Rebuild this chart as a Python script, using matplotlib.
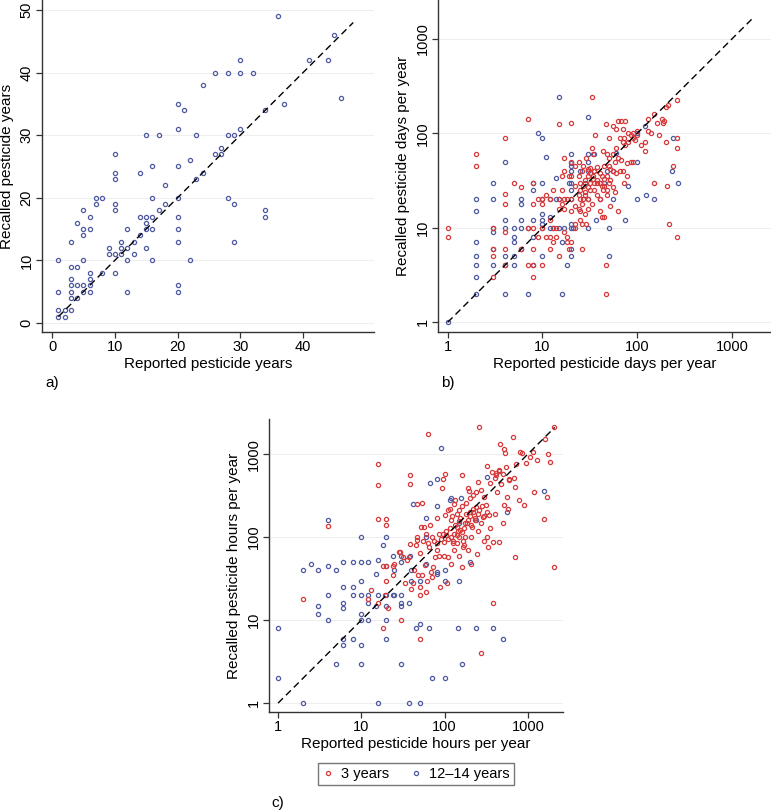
import matplotlib
matplotlib.use("Agg")
import matplotlib.pyplot as plt
from matplotlib.lines import Line2D
from matplotlib.ticker import FixedLocator, FixedFormatter, NullLocator

plt.rcParams["font.family"] = ["Liberation Sans", "DejaVu Sans"]

RED = "#d8393a"
BLUE = "#4f5aa0"

# ---- panel a: pesticide years (12-14 year group only) ----
a_reported = [1, 2, 1, 2, 3, 3, 4, 1, 3, 5, 6, 12, 20, 3, 4, 5, 6, 20, 3, 6,
              6, 8, 10, 3, 4, 1, 5, 12, 16, 22, 9, 10, 11, 13, 9, 11, 12, 15,
              3, 11, 13, 29, 20, 5, 14, 5, 6, 12, 15, 16, 20, 4, 15, 6, 14, 15,
              16, 20, 34, 5, 10, 17, 34, 7, 10, 18, 29, 7, 8, 16, 20, 28, 18,
              10, 23, 10, 14, 24, 16, 20, 22, 10, 26, 27, 27, 15, 17, 23, 28,
              29, 20, 30, 21, 34, 20, 37, 46, 24, 26, 28, 30, 32, 30, 41, 44,
              45, 36]
a_recalled = [1, 1, 2, 2, 2, 4, 4, 5, 5, 5, 5, 5, 5, 6, 6, 6, 6, 6, 7, 7,
              8, 8, 8, 9, 9, 10, 10, 10, 10, 10, 11, 11, 11, 11, 12, 12, 12, 12,
              13, 13, 13, 13, 13, 14, 14, 15, 15, 15, 15, 15, 15, 16, 16, 17, 17,
              17, 17, 17, 17, 18, 18, 18, 18, 19, 19, 19, 19, 20, 20, 20, 20, 20,
              22, 23, 23, 24, 24, 24, 25, 25, 26, 27, 27, 27, 28, 30, 30, 30, 30,
              30, 31, 31, 34, 34, 35, 35, 36, 38, 40, 40, 40, 40, 42, 42, 42,
              46, 49]

# ---- panel b: days per year ----
b_blue_reported = [1, 2, 2, 2, 2, 2, 2, 2, 3, 3, 3, 3, 3, 3, 4, 4, 4, 4, 4, 4,
                   5, 5, 5, 5, 5, 6, 6, 6, 6, 6, 7, 7, 8, 8, 8, 8, 8, 9,
                   10, 10, 10, 10, 10, 10, 10, 10, 11, 12, 12, 12, 13, 14, 14,
                   15, 15, 15, 16, 16, 17, 18, 19, 20, 20, 20, 20, 20, 20, 20,
                   20, 20, 20, 20, 21, 25, 28, 30, 30, 30, 30, 30, 30, 35, 35,
                   37, 40, 40, 45, 48, 50, 50, 55, 55, 60, 75, 80, 100, 100,
                   100, 120, 125, 150, 230, 240, 270]
b_blue_recalled = [1, 2, 3, 4, 5, 7, 15, 20, 4, 6, 10, 9, 20, 30, 2, 4, 5, 10, 12, 50,
                   4, 5, 7, 8, 10, 6, 10, 12, 18, 20, 2, 10, 4, 8, 12, 25, 30, 100,
                   5, 10, 11, 12, 14, 20, 30, 90, 56, 10, 13, 20, 10, 34, 20,
                   20, 10, 240, 2, 7, 10, 4, 30, 5, 6, 10, 11, 20, 25, 30,
                   40, 45, 60, 48, 10, 40, 30, 20, 40, 50, 60, 150, 10, 40, 60,
                   12, 30, 20, 30, 40, 5, 10, 20, 40, 62, 12, 28, 50, 100,
                   20, 120, 22, 20, 40, 90, 30]

b_red_reported = [1, 1, 2, 2, 3, 3, 3, 3, 4, 4, 4, 4, 4, 4, 5, 6, 6, 7, 7, 7,
                  8, 8, 8, 8, 8, 8, 9, 9, 10, 10, 10, 10, 11, 11, 12, 12, 12, 12,
                  13, 13, 13, 14, 14, 15, 15, 15, 15, 16, 16, 16, 17, 17, 17, 17,
                  17, 18, 18, 18, 19, 19, 20, 20, 20, 20, 20, 20, 22, 22, 22, 22,
                  22, 24, 24, 24, 24, 25, 25, 25, 25, 25, 26, 26, 26, 26, 27, 27,
                  27, 28, 28, 28, 28, 29, 29, 30, 30, 30, 30, 30, 32, 32, 32, 32,
                  33, 33, 33, 34, 34, 34, 35, 35, 35, 36, 38, 38, 38, 38, 40, 40,
                  40, 40, 42, 42, 42, 43, 43, 45, 45, 45, 45, 47, 47, 47, 48, 48,
                  48, 48, 50, 50, 50, 50, 52, 52, 52, 55, 55, 55, 55, 58, 58, 60,
                  60, 60, 62, 62, 62, 65, 65, 68, 68, 70, 70, 70, 72, 72, 75, 75,
                  78, 78, 80, 80, 85, 85, 90, 90, 90, 95, 100, 100, 110, 120, 120,
                  130, 130, 140, 150, 150, 160, 170, 180, 185, 190, 200, 200, 205,
                  210, 215, 240, 260, 260, 260, 260]
b_red_recalled = [10, 8, 60, 45, 3, 5, 6, 10, 90, 23, 18, 9, 6, 4, 30, 27, 6, 140, 10, 4,
                  30, 18, 10, 6, 4, 3, 20, 8, 20, 18, 4, 10, 22, 8, 20, 12, 8, 6,
                  25, 10, 7, 10, 8, 125, 20, 16, 5, 35, 25, 18, 55, 40, 20, 16,
                  9, 20, 7, 8, 6, 35, 130, 50, 35, 20, 15, 7, 45, 28, 17, 11,
                  10, 35, 22, 16, 50, 30, 25, 20, 15, 12, 6, 11, 18, 40, 45, 28,
                  20, 32, 24, 14, 22, 11, 55, 42, 35, 27, 20, 16, 43, 30, 25, 38,
                  240, 70, 18, 60, 33, 35, 40, 30, 25, 95, 44, 30, 22, 32, 38, 30,
                  20, 15, 35, 28, 13, 25, 65, 33, 45, 13, 28, 125, 4, 2, 60, 35,
                  25, 22, 90, 55, 45, 30, 42, 32, 17, 120, 60, 40, 27, 50, 24, 110,
                  70, 38, 135, 55, 15, 90, 40, 52, 135, 80, 110, 40, 90, 30, 135, 75,
                  48, 35, 100, 80, 95, 50, 90, 100, 50, 85, 105, 95, 75, 80, 65,
                  140, 105, 100, 160, 30, 130, 95, 140, 130, 135, 80, 190, 28,
                  200, 11, 45, 225, 90, 70, 8]

# ---- panel c: hours per year ----
c_blue_reported = [1, 1, 2, 2, 2.5, 3, 3, 3, 4, 4, 4, 4, 5, 5, 6, 6, 6, 6, 6, 6,
                   8, 8, 8, 8, 10, 10, 10, 10, 10, 10, 10, 10, 12, 12, 12, 12,
                   15, 15, 16, 16, 16, 18, 20, 20, 20, 20, 20, 20, 24, 24, 25, 25,
                   30, 30, 30, 30, 30, 30, 37, 37, 38, 40, 40, 42, 45, 50, 50, 50,
                   60, 60, 60, 65, 66, 70, 80, 80, 80, 82, 90, 100, 100, 100, 115,
                   120, 145, 150, 150, 160, 158, 200, 240, 240, 320, 380, 500, 560,
                   1580]
c_blue_recalled = [8, 2, 1, 40, 48, 40, 15, 12, 160, 45, 20, 10, 40, 3, 50, 25, 16, 14, 6, 5,
                   50, 25, 20, 6, 100, 50, 30, 20, 12, 10, 5, 3, 50, 20, 16, 10,
                   36, 15, 53, 20, 1, 80, 100, 45, 20, 15, 10, 6, 60, 20, 20, 40,
                   60, 50, 20, 16, 15, 3, 1, 16, 60, 40, 30, 250, 8, 1, 9, 30,
                   170, 100, 48, 8, 450, 2, 500, 240, 38, 36, 1200, 2, 40, 30, 280,
                   300, 8, 30, 150, 3, 300, 50, 8, 160, 530, 8, 6, 200,
                   360]

c_red_reported = [2, 4, 13, 12, 16, 16, 16, 16, 18, 18, 19, 20, 20, 20, 20, 21, 24, 24,
                  25, 28, 29, 30, 32, 33, 35, 37, 38, 38, 38, 40, 42, 43, 46, 46, 47,
                  48, 50, 50, 50, 52, 53, 54, 56, 58, 60, 61, 64, 64, 66, 68, 70, 72,
                  76, 80, 80, 86, 88, 93, 96, 98, 98, 100, 100, 103, 108, 110, 115,
                  118, 124, 127, 133, 140, 142, 147, 150, 155, 160, 160, 168, 175,
                  185, 190, 195, 200, 205, 212, 222, 230, 245, 255, 262, 270, 274,
                  290, 300, 310, 320, 325, 330, 345, 370, 380, 385, 400, 420, 425,
                  450, 455, 465, 480, 500, 510, 520, 535, 560, 580, 595, 670, 680,
                  700, 710, 720, 780, 815, 850, 900, 955, 1050, 1150, 1190, 1290,
                  1580, 1620, 1680, 1740, 1820, 2050, 2050,
                  90, 95, 105, 110, 115, 120, 125, 130, 135, 140, 145, 150, 155, 160,
                  165, 170, 175, 180, 190, 200, 210, 220, 230, 240, 250, 260, 270,
                  280, 300, 320, 80, 85, 75, 70, 65, 60, 55, 50, 45, 120, 140, 160,
                  180, 200, 220, 240, 110, 130, 350, 400, 420, 450, 500, 550, 600,
                  130, 150, 170, 210, 250, 300, 350, 190]
c_red_recalled = [18, 135, 23, 18, 770, 430, 165, 16, 8, 45, 20, 165, 140, 45, 30, 14, 45, 35,
                  48, 67, 67, 10, 58, 28, 53, 57, 560, 440, 82, 24, 28, 40, 101, 92, 250,
                  35, 6, 20, 25, 133, 255, 35, 133, 46, 22, 30, 1750, 85, 140, 38, 33, 44,
                  58, 85, 170, 110, 25, 390, 500, 87, 60, 185, 580, 120, 28, 58, 220,
                  48, 180, 84, 280, 85, 133, 155, 215, 122, 555, 44, 77, 100,
                  148, 390, 360, 203, 48, 133, 220, 163, 62, 460, 2100, 370, 4,
                  175, 305, 245, 720, 100, 75, 185, 610, 16, 88, 190, 560, 350,
                  640, 88, 1320, 440, 147, 1160, 245, 1020, 305, 220, 490, 1620, 510,
                  400, 57, 765, 280, 1055, 1020, 245, 785, 930, 1070, 345, 860,
                  167, 1540, 305, 1000, 810, 2100, 44,
                  95, 110, 105, 95, 130, 100, 90, 110, 140, 105, 120, 100, 170, 115,
                  90, 130, 150, 190, 160, 180, 140, 200, 170, 230, 190, 210, 150,
                  240, 180, 200, 70, 60, 90, 100, 75, 110, 90, 65, 80, 160, 190, 240,
                  260, 300, 320, 350, 210, 250, 450, 520, 600, 620, 580, 700, 500,
                  70, 60, 80, 100, 120, 90, 130, 70]

log_ticks = [1, 10, 100, 1000]
log_labels = ["1", "10", "100", "1000"]


def style_axes(ax):
    for side in ["top", "right"]:
        ax.spines[side].set_visible(False)
    for side in ["left", "bottom"]:
        ax.spines[side].set_color("#333333")
        ax.spines[side].set_linewidth(1.0)
    ax.tick_params(direction="out", length=4, width=0.9, color="#333333",
                   labelsize=10.5, pad=2)
    ax.tick_params(axis="y", labelrotation=90)
    for lab in ax.get_yticklabels():
        lab.set_va("center")
    ax.yaxis.grid(True, color="#eeeeee", linewidth=0.7)
    ax.set_axisbelow(True)


def set_log(ax, lo, hi):
    ax.set_xscale("log")
    ax.set_yscale("log")
    ax.set_xlim(lo, hi)
    ax.set_ylim(lo, hi)
    for axis in [ax.xaxis, ax.yaxis]:
        axis.set_major_locator(FixedLocator(log_ticks))
        axis.set_major_formatter(FixedFormatter(log_labels))
        axis.set_minor_locator(NullLocator())


def scatter(ax, x, y, color):
    ax.plot(x, y, linestyle="none", marker="o", markersize=3.0,
            markerfacecolor="none", markeredgecolor=color, markeredgewidth=0.9,
            zorder=3)


def diagonal(ax, lo, hi):
    ax.plot([lo, hi], [lo, hi], color="black", linestyle=(0, (5, 3)),
            linewidth=1.0, zorder=4)


fig = plt.figure(figsize=(7.71, 8.11), dpi=100)

# a)
ax_a = fig.add_axes([0.0545, 0.5906, 0.4305, 0.4094])
scatter(ax_a, a_reported, a_recalled, BLUE)
diagonal(ax_a, 1, 48)
ax_a.set_xlim(-1.6, 51.3)
ax_a.set_ylim(-1.45, 51.6)
ax_a.set_xticks([0, 10, 20, 30, 40])
ax_a.set_yticks([0, 10, 20, 30, 40, 50])
ax_a.set_xlabel("Reported pesticide years", fontsize=11, labelpad=2)
ax_a.set_ylabel("Recalled pesticide years", fontsize=11, labelpad=4)
style_axes(ax_a)

# b)
ax_b = fig.add_axes([0.568, 0.5906, 0.432, 0.4094])
scatter(ax_b, b_blue_reported, b_blue_recalled, BLUE)
scatter(ax_b, b_red_reported, b_red_recalled, RED)
diagonal(ax_b, 1, 1680)
set_log(ax_b, 0.79, 2570)
ax_b.set_xlabel("Reported pesticide days per year", fontsize=11, labelpad=2)
ax_b.set_ylabel("Recalled pesticide days per year", fontsize=11, labelpad=4)
style_axes(ax_b)

# c)
ax_c = fig.add_axes([0.349, 0.122, 0.381, 0.361])
scatter(ax_c, c_blue_reported, c_blue_recalled, BLUE)
scatter(ax_c, c_red_reported, c_red_recalled, RED)
diagonal(ax_c, 1, 2100)
set_log(ax_c, 0.78, 2630)
ax_c.set_xlabel("Reported pesticide hours per year", fontsize=11, labelpad=2)
ax_c.set_ylabel("Recalled pesticide hours per year", fontsize=11, labelpad=4)
style_axes(ax_c)

handles = [
    Line2D([], [], linestyle="none", marker="o", markersize=3.0,
           markerfacecolor="none", markeredgecolor=RED, markeredgewidth=0.9),
    Line2D([], [], linestyle="none", marker="o", markersize=3.0,
           markerfacecolor="none", markeredgecolor=BLUE, markeredgewidth=0.9),
]
leg = fig.legend(handles, ["3 years", "12\u201314 years"], loc="center",
                 bbox_to_anchor=(416 / 771, 1 - 774 / 811), ncol=2,
                 fontsize=10.5, frameon=True, fancybox=False, handlelength=0.8,
                 handletextpad=0.5, columnspacing=1.4, borderpad=0.3)
leg.get_frame().set_edgecolor("#555555")
leg.get_frame().set_linewidth(1.0)

fig.text(52 / 771, 1 - 383 / 811, "a)", fontsize=11, ha="center", va="center")
fig.text(448 / 771, 1 - 383 / 811, "b)", fontsize=11, ha="center", va="center")
fig.text(278 / 771, 1 - 803 / 811, "c)", fontsize=11, ha="center", va="center")

fig.savefig("out.png", dpi=100)
